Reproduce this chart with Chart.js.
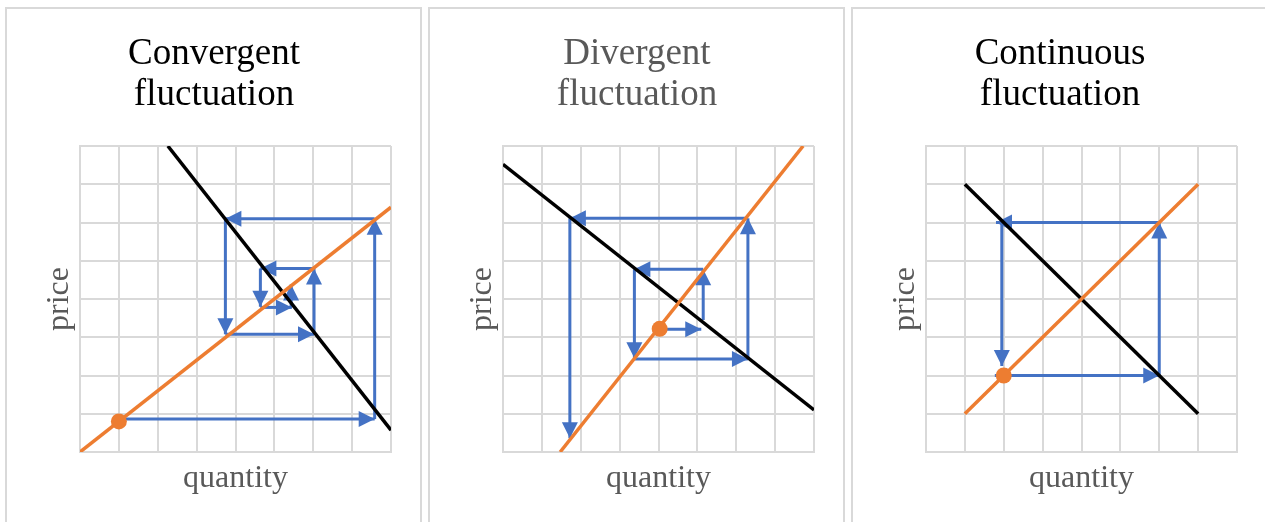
<!DOCTYPE html>
<html lang="en">
<head>
  <meta charset="UTF-8">
  <title>Cobweb fluctuation</title>
  <script src="https://cdn.jsdelivr.net/npm/chart.js"></script>
  <style>
    html, body { margin: 0; padding: 0; background: #fff; overflow: hidden; }
    body { width: 1265px; height: 522px; position: relative; }
    .panel { position: absolute; top: 7px; width: 413px; height: 540px; border: 2px solid #d9d9d9; background: #fff; }
    .panel canvas { display: block; }
  </style>
</head>
<body>
  <div class="panel" style="left:5px"><canvas id="conv" width="413" height="513"></canvas></div>
  <div class="panel" style="left:428px"><canvas id="div" width="413" height="513"></canvas></div>
  <div class="panel" style="left:851px"><canvas id="cont" width="413" height="513"></canvas></div>

  <script>
    // grid runs 0..8 in both directions, one line per unit
    const axisMin = 0;
    const axisMax = 8;

    // convergent: steep demand, flat supply
    const convTitle = ['Convergent', 'fluctuation'];
    const convDemand = [{x: 2.26, y: 8}, {x: 8, y: 0.57}];
    const convSupply = [{x: 0, y: 0}, {x: 8, y: 6.4}];
    const convStart = [{x: 1, y: 0.8}];
    // each arrow: [x1, y1, x2, y2], head at the second point
    const convArrows = [
      [1.05, 0.86, 7.58, 0.86],
      [7.58, 0.86, 7.58, 6.1],
      [7.58, 6.1, 3.74, 6.1],
      [3.74, 6.1, 3.74, 3.08],
      [3.74, 3.08, 6.02, 3.08],
      [6.02, 3.08, 6.02, 4.8],
      [6.02, 4.8, 4.64, 4.8],
      [4.64, 4.8, 4.64, 3.8],
      [4.64, 3.78, 5.45, 3.78],
      [5.43, 3.78, 5.43, 4.38]
    ];

    // divergent: flat demand, steep supply
    const divTitle = ['Divergent', 'fluctuation'];
    const divDemand = [{x: 0, y: 7.52}, {x: 8, y: 1.1}];
    const divSupply = [{x: 1.47, y: 0}, {x: 7.72, y: 8}];
    const divStart = [{x: 4.03, y: 3.22}];
    const divArrows = [
      [4.03, 3.21, 5.1, 3.21],
      [5.15, 3.45, 5.15, 4.78],
      [5.15, 4.78, 3.38, 4.78],
      [3.38, 4.78, 3.38, 2.45],
      [3.38, 2.43, 6.3, 2.43],
      [6.3, 2.43, 6.3, 6.11],
      [6.3, 6.11, 1.72, 6.11],
      [1.72, 6.11, 1.72, 0.36]
    ];

    // continuous: equal slopes
    const contTitle = ['Continuous', 'fluctuation'];
    const contDemand = [{x: 1, y: 7}, {x: 7, y: 1}];
    const contSupply = [{x: 1, y: 1}, {x: 7, y: 7}];
    const contStart = [{x: 2, y: 2}];
    const contArrows = [
      [1.77, 2, 6, 2],
      [6, 2, 6, 6],
      [6, 6, 1.8, 6],
      [1.95, 6, 1.95, 2.25]
    ];

    const BLUE = '#4472C4';
    const ORANGE = '#ED7D31';
    const GRID = '#d9d9d9';
    const SERIF = "'Liberation Serif', 'Times New Roman', serif";

    // filled triangle at the end of every arrow segment
    const arrowHeads = {
      id: 'arrowHeads',
      afterDatasetDraw(chart, args) {
        const ds = chart.data.datasets[args.index];
        if (!ds.arrow) return;
        const pts = args.meta.data;
        const a = pts[0], b = pts[1];
        const ang = Math.atan2(b.y - a.y, b.x - a.x);
        const ctx = chart.ctx;
        ctx.save();
        ctx.translate(b.x, b.y);
        ctx.rotate(ang);
        ctx.beginPath();
        ctx.moveTo(0, 0);
        ctx.lineTo(-16, -8);
        ctx.lineTo(-16, 8);
        ctx.closePath();
        ctx.fillStyle = ds.borderColor;
        ctx.fill();
        ctx.restore();
      }
    };

    function axis(label) {
      return {
        type: 'linear',
        min: axisMin,
        max: axisMax,
        ticks: { display: false, stepSize: 1 },
        grid: { color: GRID, lineWidth: 2, drawTicks: false },
        border: { color: GRID, width: 2 },
        title: {
          display: true,
          text: label,
          color: '#595959',
          font: { family: SERIF, size: 32, lineHeight: 1.2 },
          padding: label === 'price' ? { top: 3, bottom: 1.6 } : { top: 7, bottom: 0 }
        }
      };
    }

    function makeChart(id, title, titleColor, demand, supply, start, arrows) {
      // first dataset ends up on top, so the blue arrows go last
      const datasets = [
        { data: start, showLine: false, pointRadius: 8, pointBackgroundColor: ORANGE, pointBorderWidth: 0 },
        { data: supply, showLine: true, borderColor: ORANGE, borderWidth: 3.5, pointRadius: 0 },
        { data: demand, showLine: true, borderColor: '#000', borderWidth: 3.5, pointRadius: 0 }
      ];
      arrows.forEach(s => {
        datasets.push({
          data: [{x: s[0], y: s[1]}, {x: s[2], y: s[3]}],
          showLine: true,
          borderColor: BLUE,
          borderWidth: 3,
          pointRadius: 0,
          arrow: true
        });
      });

      new Chart(document.getElementById(id), {
        type: 'scatter',
        data: { datasets },
        options: {
          responsive: false,
          animation: false,
          devicePixelRatio: 1,
          layout: { padding: { left: 30, right: 29, top: 0, bottom: 24.6 } },
          plugins: {
            legend: { display: false },
            tooltip: { enabled: false },
            title: {
              display: true,
              text: title,
              color: titleColor,
              font: { family: SERIF, size: 37, weight: 'normal', lineHeight: 1.1 },
              padding: { top: 25, bottom: 30.6 }
            }
          },
          scales: {
            x: axis('quantity'),
            y: axis('price')
          }
        },
        plugins: [arrowHeads]
      });
    }

    makeChart('conv', convTitle, '#000', convDemand, convSupply, convStart, convArrows);
    makeChart('div', divTitle, '#595959', divDemand, divSupply, divStart, divArrows);
    makeChart('cont', contTitle, '#000', contDemand, contSupply, contStart, contArrows);
  </script>
</body>
</html>
